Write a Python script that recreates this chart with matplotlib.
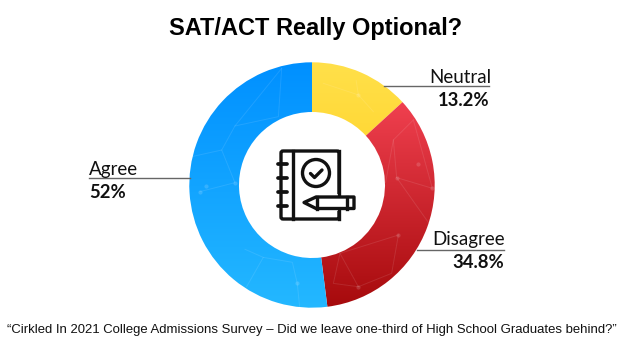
import numpy as np
import matplotlib
matplotlib.use('Agg')
import matplotlib.pyplot as plt
from matplotlib.patches import Circle, FancyBboxPatch, Polygon

# data
labels = ['Neutral', 'Disagree', 'Agree']
values = [13.2, 34.8, 52]
value_text = ['13.2%', '34.8%', '52%']

# gradient ends for each slice, top to bottom
grad_top = ['#FFE04A', '#F0404F', '#0090FF']
grad_bottom = ['#FFD42A', '#A60A0C', '#24B8FF']

# faint network lines on the ring, in ring units
net_lines = [
    [(-.247, .951), (-.628, .481), (-.736, .285), (-.628, .019), (-.913, -.054)],
    [(-.247, .951), (-.274, .557), (-.628, .481)],
    [(-.736, .285), (-.981, .231)],
    [(-.546, -.524), (-.397, -.590), (-.160, -.630), (-.120, -.802), (-.10, -1.0)],
    [(-.397, -.590), (-.533, -.829)],
    [(.092, .829), (.378, .734), (.5, .598)],
    [(.378, .734), (.36, .85)],
    [(.826, .530), (.663, .367), (.690, .060), (.981, -.027), (.826, .530)],
    [(.663, .367), (.60, .02)],
    [(.704, -.408), (.649, -.720), (.378, -.829), (.228, -.557), (.704, -.408)],
    [(.228, -.557), (.174, -.802), (.378, -.829)],
    [(.690, .060), (.98, -.35)],
]
net_dots = [(-.628, .019), (-.913, -.054), (-.86, -.01), (-.120, -.802), (.378, -.829),
            (.690, .060), (.981, -.027), (.86, .17), (.378, .734), (.704, -.408)]

fig = plt.figure(figsize=(6.24, 3.51), dpi=100, facecolor='white')

# ring
cx, cy, r = 312, 185, 122.7
pie_ax = fig.add_axes([(cx - r) / 624, 1 - (cy + r) / 351, 2 * r / 624, 2 * r / 351])
wedges, _ = pie_ax.pie(values, startangle=90, counterclock=False, radius=1,
                       wedgeprops=dict(width=0.405, linewidth=0))
for w, c0, c1 in zip(wedges, grad_top, grad_bottom):
    rgb0 = np.array(matplotlib.colors.to_rgb(c0))
    rgb1 = np.array(matplotlib.colors.to_rgb(c1))
    t = np.linspace(0, 1, 256)[:, None, None]
    # each slice fades over its own height
    verts = w.get_patch_transform().transform(w.get_path().vertices)
    top, bot = verts[:, 1].max(), verts[:, 1].min()
    grad = rgb0[None, None, :] * (1 - t) + rgb1[None, None, :] * t
    im = pie_ax.imshow(grad, extent=[-1, 1, bot, top], aspect='auto', zorder=1,
                       interpolation='bilinear')
    im.set_clip_path(w)
    w.set_visible(False)

for line in net_lines:
    xs, ys = zip(*line)
    pie_ax.plot(xs, ys, color='white', alpha=0.1, lw=0.7, zorder=2)
pie_ax.scatter(*zip(*net_dots), s=9, color='white', alpha=0.15, linewidths=0, zorder=2)
pie_ax.set_xlim(-1, 1)
pie_ax.set_ylim(-1, 1)
pie_ax.axis('off')

# overlay in pixel coordinates for text, leader lines, icon
ax = fig.add_axes([0, 0, 1, 1])
ax.set_xlim(0, 624)
ax.set_ylim(351, 0)
ax.axis('off')
ax.patch.set_alpha(0)

ax.text(316, 35, 'SAT/ACT Really Optional?', ha='center', va='baseline', fontsize=17,
        fontweight='bold', family='Liberation Sans', color='black')
ax.text(312, 333, '\u201cCirkled In 2021 College Admissions Survey \u2013 Did we leave one-third of High School Graduates behind?\u201d',
        ha='center', va='baseline', fontsize=9.45, family='Liberation Sans', color='#111111')

label_font = dict(family='Lato', color='#111111', va='baseline')
ax.plot([384, 489], [85.7, 85.7], color='#666666', lw=1)
ax.text(429, 83, labels[0], ha='left', fontsize=13.5, **label_font)
ax.text(489, 106, value_text[0], ha='right', fontsize=13.3, fontweight='bold', **label_font)
ax.plot([417, 504], [249.5, 249.5], color='#666666', lw=1)
ax.text(432, 245, labels[1], ha='left', fontsize=13.5, **label_font)
ax.text(504, 268, value_text[1], ha='right', fontsize=13.3, fontweight='bold', **label_font)
ax.plot([89, 190], [178, 178], color='#666666', lw=1)
ax.text(89, 175, labels[2], ha='left', fontsize=13.5, **label_font)
ax.text(89, 198, value_text[2], ha='left', fontsize=13.3, fontweight='bold', **label_font)

# notebook icon
lw = 2.4
ink = '#111111'
ax.add_patch(FancyBboxPatch((281, 151), 58, 68, boxstyle='round,pad=0,rounding_size=2',
                            fc='white', ec=ink, lw=lw, zorder=3))
ax.plot([293, 293], [151, 219], color=ink, lw=lw, zorder=4)
for y in [164, 178, 192, 206]:
    ax.plot([278, 287], [y, y], color=ink, lw=lw + 0.3, solid_capstyle='round', zorder=4)
ax.add_patch(Circle((316, 173), 13.5, fc='white', ec=ink, lw=lw, zorder=4))
ax.plot([310.5, 314.5, 322], [173.5, 177.5, 170], color=ink, lw=lw, zorder=5,
        solid_capstyle='round', solid_joinstyle='round')
# pencil, with a white margin that cuts the page outline
ax.add_patch(Polygon([(300, 203), (316, 194), (358, 194), (358, 211), (316, 211)],
                     closed=True, fc='white', ec='none', zorder=4))
ax.add_patch(Polygon([(304, 202.5), (316, 197), (354, 197), (354, 208.5), (316, 208.5)],
                     closed=True, fc='white', ec=ink, lw=lw, zorder=5, joinstyle='round'))
ax.plot([317, 317], [197, 208.5], color=ink, lw=lw, zorder=6)
ax.plot([347, 347], [197, 208.5], color=ink, lw=lw, zorder=6)
ax.plot([339, 339], [208.5, 219], color=ink, lw=lw, zorder=4)
ax.plot([339, 339], [151, 196], color=ink, lw=lw, zorder=4)

fig.savefig('out.png', dpi=100)
